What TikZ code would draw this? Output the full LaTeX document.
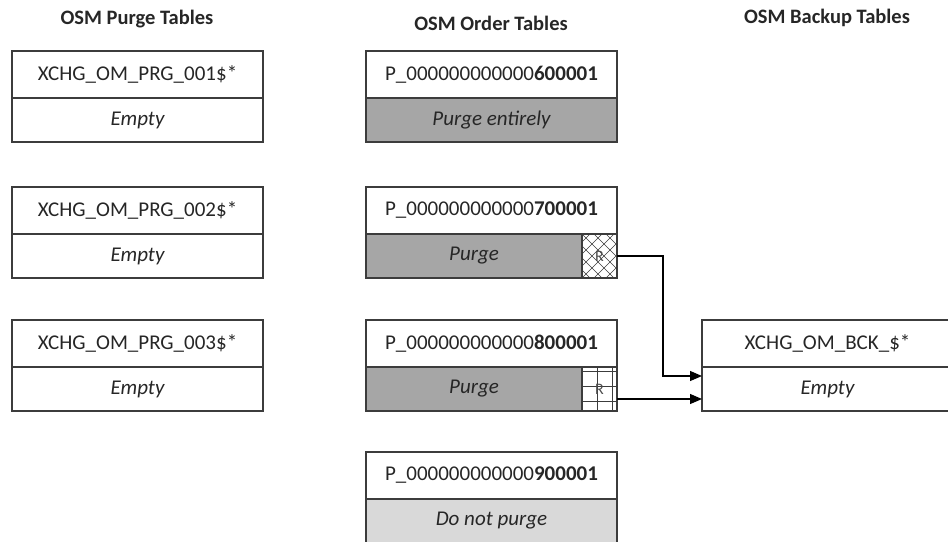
\documentclass[tikz,border=0pt]{standalone}
\usepackage{fontspec}
\setmainfont{Carlito}
\usetikzlibrary{arrows.meta}
\definecolor{linec}{HTML}{3C3C3C}
\definecolor{purgefill}{HTML}{A6A6A6}
\definecolor{keepfill}{HTML}{D9D9D9}
\begin{document}
\begin{tikzpicture}[x=1pt,y=-1pt,
  tbl/.style={draw=linec, line width=1.4pt, inner sep=0pt, outer sep=0pt, anchor=north west,
    minimum width=251pt, font=\fontsize{21}{25}\selectfont, text=black!85},
  namecell/.style={tbl, minimum height=47pt},
  bodycell/.style={tbl, minimum height=44pt, font=\fontsize{21}{25}\selectfont\itshape},
  hdr/.style={font=\fontsize{20.5}{24}\selectfont\bfseries, text=black!85},
  rcell/.style={draw=linec, line width=1.2pt, inner sep=0pt, outer sep=0pt, anchor=north west,
    minimum width=35pt, minimum height=44pt, font=\fontsize{16}{18}\selectfont, text=black!70},
  hatch/.style={draw=linec, line width=0.6pt},
  flow/.style={draw=black, line width=1.2pt, -{Triangle[length=12pt,width=10pt]}}]
\useasboundingbox (0,0) rectangle (948,541);

% headers
\node[hdr] (h1) at (137,19) {OSM Purge Tables};
\node[hdr] (h2) at (491,23) {OSM Order Tables};
\node[hdr] (h3) at (827,18) {OSM Backup Tables};

% purge tables
\node[bodycell] (p1b) at (12,98) {Empty};
\node[namecell] (p1) at (12,51) {XCHG\_OM\_PRG\_001\$*};
\node[bodycell] (p2b) at (12,234) {Empty};
\node[namecell] (p2) at (12,187) {XCHG\_OM\_PRG\_002\$*};
\node[bodycell] (p3b) at (12,367) {Empty};
\node[namecell] (p3) at (12,320) {XCHG\_OM\_PRG\_003\$*};

% order tables
\node[bodycell, fill=purgefill] (o6b) at (366,98) {Purge entirely};
\node[namecell] (o6) at (366,51) {P\_000000000000\textbf{600001}};

\node[bodycell, fill=purgefill, minimum width=216pt] (o7b) at (366,234) {Purge};
\begin{scope}
  \clip (582,234) rectangle (617,278);
  \foreach \i in {-48,-36,...,36} {
    \draw[hatch] (582+\i,234) -- ++(44,44);
    \draw[hatch] (582+\i,278) -- ++(44,-44);
  }
\end{scope}
\node[rcell] (r7) at (582,234) {R};
\node[namecell] (o7) at (366,187) {P\_000000000000\textbf{700001}};

\node[bodycell, fill=purgefill, minimum width=216pt] (o8b) at (366,367) {Purge};
\begin{scope}
  \clip (582,367) rectangle (617,411);
  \foreach \xx in {597,612} \draw[hatch] (\xx,367) -- (\xx,411);
  \foreach \yy in {371,386,401} \draw[hatch] (582,\yy) -- (617,\yy);
\end{scope}
\node[rcell] (r8) at (582,367) {R};
\node[namecell] (o8) at (366,320) {P\_000000000000\textbf{800001}};

\node[bodycell, fill=keepfill] (o9b) at (366,499) {Do not purge};
\node[namecell] (o9) at (366,452) {P\_000000000000\textbf{900001}};

% backup table
\node[bodycell] (bkb) at (702,367) {Empty};
\node[namecell] (bk) at (702,320) {XCHG\_OM\_BCK\_\$*};

% connectors
\coordinate (in1) at (702,376);
\coordinate (out2) at (617,399);
\coordinate (in2) at (702,399);
\draw[flow] (r7.east) -- ++(46,0) |- (in1);
\draw[flow] (out2) -- (in2);
\end{tikzpicture}
\end{document}
